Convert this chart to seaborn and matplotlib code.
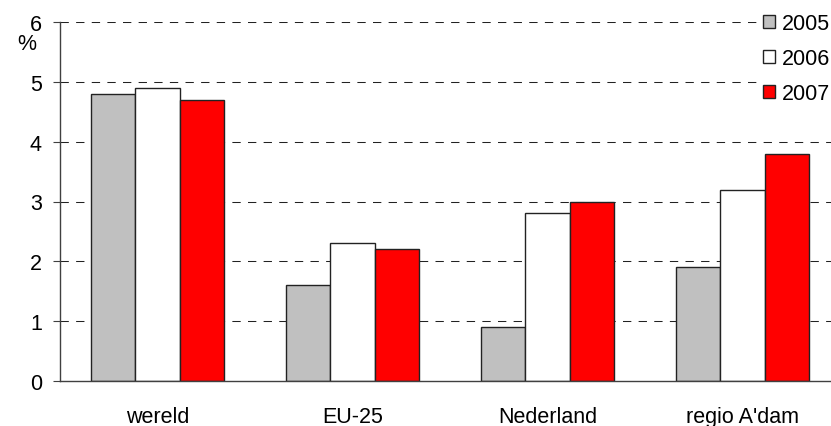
import matplotlib
matplotlib.use("Agg")
import matplotlib.pyplot as plt
import seaborn as sns
import pandas as pd

categories = ["wereld", "EU-25", "Nederland", "regio A'dam"]
years = ["2005", "2006", "2007"]
v2005 = [4.8, 1.6, 0.9, 1.9]
v2006 = [4.9, 2.3, 2.8, 3.2]
v2007 = [4.7, 2.2, 3.0, 3.8]
yticks = [0, 1, 2, 3, 4, 5, 6]

sns.set_style("white")
plt.rcParams["font.family"] = ["Liberation Sans", "DejaVu Sans"]
plt.rcParams["text.color"] = "black"
plt.rcParams["xtick.color"] = "black"
plt.rcParams["ytick.color"] = "black"
FS = 15.5

rows = []
for yr, vals in zip(years, [v2005, v2006, v2007]):
    for c, v in zip(categories, vals):
        rows.append({"cat": c, "year": yr, "val": v})
df = pd.DataFrame(rows)

fig = plt.figure(figsize=(8.31, 4.27), dpi=100)
ax = fig.add_axes([60/831, 1-382/427, 780/831, (382-23)/427])

palette = {"2005": "#C0C0C0", "2006": "#FFFFFF", "2007": "#FF0000"}
sns.barplot(data=df, x="cat", y="val", hue="year", order=categories,
            hue_order=years, palette=palette, width=0.677, saturation=1,
            edgecolor="#222222", linewidth=1.0, ax=ax, zorder=3)

ax.set_xlim(-0.5, 3.5)
ax.set_ylim(0, 6)
ax.set_yticks(yticks)
ax.set_yticklabels([str(t) for t in yticks])
ax.set_xlabel("")
ax.set_ylabel("")

for t in yticks[1:]:
    ax.axhline(t, color="#222222", lw=0.75, ls=(0, (8, 7)), zorder=1)

for s in ["top", "right"]:
    ax.spines[s].set_visible(False)
for s in ["left", "bottom"]:
    ax.spines[s].set_color("#404040")
    ax.spines[s].set_linewidth(1.0)
    ax.spines[s].set_zorder(4)

ax.tick_params(axis="y", direction="out", length=5, width=0.8, color="#404040",
               pad=8, labelsize=FS, left=True, labelcolor="black")
ax.tick_params(axis="x", length=0, pad=18, labelsize=FS, labelcolor="black")

fig.text(27/831, 1-45/427, "%", fontsize=FS, ha="center", va="center", color="black")

handles, labels = ax.get_legend_handles_labels()
if ax.get_legend():
    ax.get_legend().remove()
leg = fig.legend(handles, labels, loc="upper left",
                 bbox_to_anchor=(759/831, 1-10/427),
                 frameon=True, facecolor="white", edgecolor="none", framealpha=1,
                 fontsize=FS, handlelength=0.55, handleheight=0.55,
                 handletextpad=0.3, labelspacing=0.64, borderpad=0.2,
                 borderaxespad=0)
for t in leg.get_texts():
    t.set_color("black")
leg.set_zorder(10)

fig.savefig("out.png", dpi=100)
